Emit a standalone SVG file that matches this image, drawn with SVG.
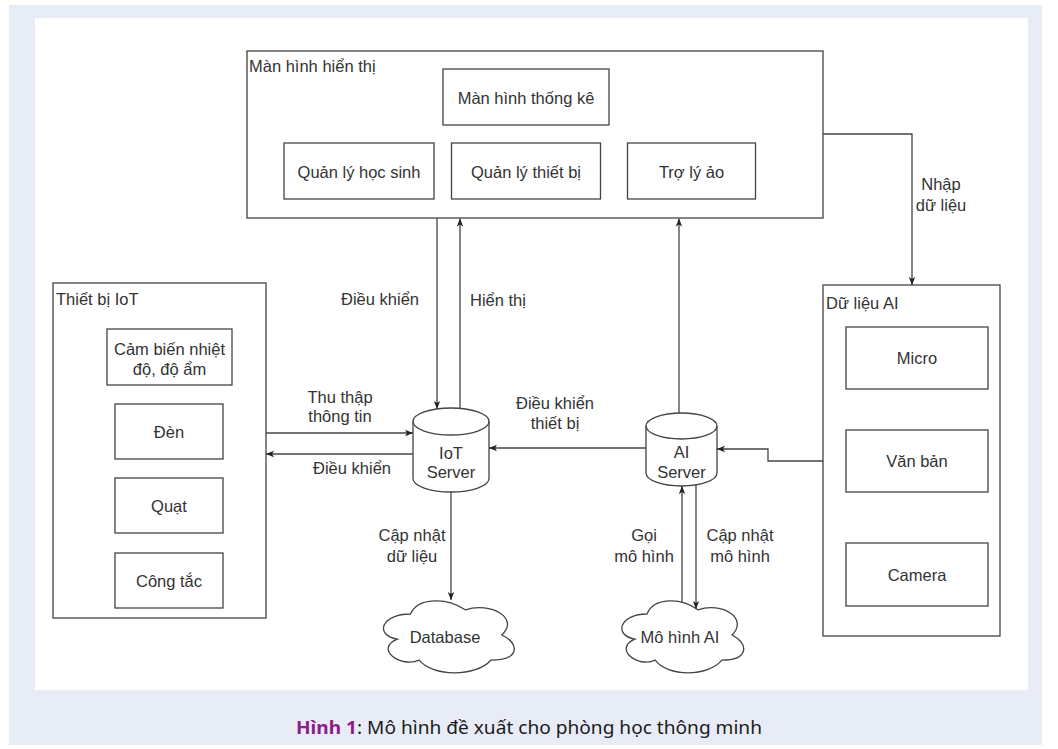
<svg xmlns="http://www.w3.org/2000/svg" width="1058" height="749" viewBox="0 0 1058 749">
<defs>
<style>
.box{fill:#fff;stroke:#444;stroke-width:1.3}
.t{font-family:"Liberation Sans",Arial,sans-serif;font-size:16.5px;fill:#333}
.c{text-anchor:middle}
.ln{fill:none;stroke:#444;stroke-width:1.3}
.cap{font-family:"Noto Sans","Open Sans",sans-serif;font-size:18px;fill:#1a1a1a}
</style>
<marker id="arr" viewBox="0 0 10 10" refX="10" refY="5" markerWidth="8" markerHeight="8" markerUnits="userSpaceOnUse" orient="auto">
<path d="M0,1 L10,5 L0,9 L2.5,5 Z" fill="#222"/>
</marker>
</defs>
<rect x="0" y="0" width="1058" height="749" fill="#fff"/>
<rect x="9" y="5" width="1033" height="740" fill="#e8ecf6"/>
<rect x="35" y="18" width="993" height="672" fill="#fff"/>

<g id="man-hinh-hien-thi">
<rect class="box" x="247" y="51" width="576" height="167"/>
<text class="t" x="249" y="72">Màn hình hiển thị</text>
</g>
<g id="man-hinh-thong-ke">
<rect class="box" x="443" y="69" width="166" height="56"/>
<text class="t c" x="526" y="104">Màn hình thống kê</text>
</g>
<g id="quan-ly-hoc-sinh">
<rect class="box" x="284" y="143" width="150" height="56"/>
<text class="t c" x="359" y="177.5">Quản lý học sinh</text>
</g>
<g id="quan-ly-thiet-bi">
<rect class="box" x="451.5" y="143" width="149" height="56"/>
<text class="t c" x="526" y="177.5">Quản lý thiết bị</text>
</g>
<g id="tro-ly-ao">
<rect class="box" x="627.5" y="143" width="128" height="56"/>
<text class="t c" x="691.5" y="177.5">Trợ lý ảo</text>
</g>

<g id="thiet-bi-iot">
<rect class="box" x="53" y="283" width="213" height="335"/>
<text class="t" x="56" y="305">Thiết bị IoT</text>
</g>
<g id="cam-bien">
<rect class="box" x="107" y="329" width="125" height="56"/>
<text class="t c" x="169.5" y="355">Cảm biến nhiệt</text>
<text class="t c" x="169.5" y="375">độ, độ ẩm</text>
</g>
<g id="den">
<rect class="box" x="115" y="404" width="108" height="55"/>
<text class="t c" x="169" y="437.5">Đèn</text>
</g>
<g id="quat">
<rect class="box" x="115" y="478" width="108" height="55"/>
<text class="t c" x="169" y="511.5">Quạt</text>
</g>
<g id="cong-tac">
<rect class="box" x="115" y="553" width="108" height="55"/>
<text class="t c" x="169" y="586.5">Công tắc</text>
</g>

<g id="du-lieu-ai">
<rect class="box" x="823" y="285" width="177" height="351"/>
<text class="t" x="826" y="309">Dữ liệu AI</text>
</g>
<g id="micro">
<rect class="box" x="846" y="327" width="142" height="62"/>
<text class="t c" x="917" y="364">Micro</text>
</g>
<g id="van-ban">
<rect class="box" x="846" y="430" width="142" height="62"/>
<text class="t c" x="917" y="467">Văn bản</text>
</g>
<g id="camera">
<rect class="box" x="846" y="543" width="142" height="63"/>
<text class="t c" x="917" y="580.5">Camera</text>
</g>

<g id="iot-server">
<path class="box" d="M413,421.5 A38,13.5 0 0 1 489,421.5 V478.5 A38,13.5 0 0 1 413,478.5 Z"/>
<path class="ln" d="M413,421.5 A38,13.5 0 0 0 489,421.5"/>
<text class="t c" x="451" y="459">IoT</text>
<text class="t c" x="451" y="478">Server</text>
</g>
<g id="ai-server">
<path class="box" d="M646,426 A35.5,13 0 0 1 717,426 V473 A35.5,13 0 0 1 646,473 Z"/>
<path class="ln" d="M646,426 A35.5,13 0 0 0 717,426"/>
<text class="t c" x="681.5" y="458">AI</text>
<text class="t c" x="681.5" y="478">Server</text>
</g>

<g id="database">
<path class="box" d="M410.5,614 C381.3,614 374,635 397.4,639.2 C374,648.4 400.3,668.6 419.3,660.2 C432.4,677 476.2,677 490.8,660.2 C520,660.2 520,643.4 501.8,635 C520,618.2 490.8,601.4 465.3,609.8 C447,597.2 417.8,597.2 410.5,614 Z"/>
<text class="t c" x="445" y="643">Database</text>
</g>
<g id="mo-hinh-ai">
<path class="box" d="M647,614 C619.8,614 613,635 634.8,639.2 C613,648.4 637.5,668.6 655.2,660.2 C667.4,677 708.2,677 721.8,660.2 C749,660.2 749,643.4 732,635 C749,618.2 721.8,601.4 698,609.8 C681,597.2 653.8,597.2 647,614 Z"/>
<text class="t c" x="680" y="643">Mô hình AI</text>
</g>

<g id="connectors">
<path class="ln" d="M437,218 V409" marker-end="url(#arr)"/>
<path class="ln" d="M460,408.5 V218.5" marker-end="url(#arr)"/>
<path class="ln" d="M679,413 V218.5" marker-end="url(#arr)"/>
<path class="ln" d="M823,134 H912 V285" marker-end="url(#arr)"/>
<path class="ln" d="M266,433 H413" marker-end="url(#arr)"/>
<path class="ln" d="M413,454 H266" marker-end="url(#arr)"/>
<path class="ln" d="M646,448 H489" marker-end="url(#arr)"/>
<path class="ln" d="M823,461 H768 V449 H717" marker-end="url(#arr)"/>
<path class="ln" d="M451,492 V600" marker-end="url(#arr)"/>
<path class="ln" d="M682,603 V486" marker-end="url(#arr)"/>
<path class="ln" d="M696,485 V609" marker-end="url(#arr)"/>
</g>

<g id="labels">
<text class="t c" x="380" y="305">Điều khiển</text>
<text class="t c" x="498" y="306">Hiển thị</text>
<text class="t c" x="340" y="403">Thu thập</text>
<text class="t c" x="340" y="422">thông tin</text>
<text class="t c" x="352" y="474">Điều khiển</text>
<text class="t c" x="555" y="409">Điều khiển</text>
<text class="t c" x="555" y="429">thiết bị</text>
<text class="t c" x="412" y="540.5">Cập nhật</text>
<text class="t c" x="412" y="561.5">dữ liệu</text>
<text class="t c" x="644" y="540.5">Gọi</text>
<text class="t c" x="644" y="561.5">mô hình</text>
<text class="t c" x="740" y="540.5">Cập nhật</text>
<text class="t c" x="740" y="561.5">mô hình</text>
<text class="t c" x="941" y="190">Nhập</text>
<text class="t c" x="941" y="211">dữ liệu</text>
</g>

<text class="cap" x="296" y="734" textLength="466" lengthAdjust="spacingAndGlyphs"><tspan font-weight="bold" fill="#8a1e8a">Hình 1</tspan>: Mô hình đề xuất cho phòng học thông minh</text>
</svg>
